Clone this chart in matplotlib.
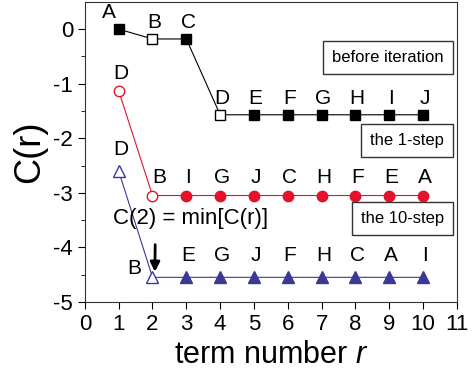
import numpy as np
import matplotlib.pyplot as plt

plt.rcParams['font.family'] = ['Liberation Sans', 'DejaVu Sans']
plt.rcParams['axes.unicode_minus'] = False
plt.rcParams['mathtext.fontset'] = 'custom'
plt.rcParams['mathtext.it'] = 'Liberation Sans:italic'
plt.rcParams['mathtext.rm'] = 'Liberation Sans'

r = np.arange(1, 11)

# before iteration
c0 = [0, -0.18, -0.18, -1.57, -1.57, -1.57, -1.57, -1.57, -1.57, -1.57]
lab0 = ["A", "B", "C", "D", "E", "F", "G", "H", "I", "J"]
open0 = [1, 3]          # indices drawn as open markers

# the 1-step
c1 = [-1.13, -3.05, -3.05, -3.05, -3.05, -3.05, -3.05, -3.05, -3.05, -3.05]
lab1 = ["D", "B", "I", "G", "J", "C", "H", "F", "E", "A"]
open1 = [0, 1]

# the 10-step
c10 = [-2.6, -4.55, -4.55, -4.55, -4.55, -4.55, -4.55, -4.55, -4.55, -4.55]
lab10 = ["D", "B", "E", "G", "J", "F", "H", "C", "A", "I"]
open10 = [0, 1]

black = "black"
red = "#e3132c"
blue = "#3a3a96"

fig = plt.figure(figsize=(4.74, 3.75), dpi=100)
ax = fig.add_axes([0.179, 0.195, 0.785, 0.8])

def series(y, labels, opens, color, marker, ms):
    ax.plot(r, y, "-", color=color, lw=0.8, zorder=1)
    for i in range(len(r)):
        fc = "white" if i in opens else color
        ax.plot(r[i], y[i], marker, ms=ms, mfc=fc, mec=color, mew=1.0, zorder=2)

series(c0, lab0, open0, black, "s", 7)
series(c1, lab1, open1, red, "o", 7.5)
series(c10, lab10, open10, blue, "^", 8)

fs = 15
# letter labels
for i in range(len(r)):
    dx = -0.3 if i == 0 else 0.05
    ax.text(r[i] + dx, c0[i] + 0.13, lab0[i], fontsize=fs, ha="center", va="bottom")
for i in range(len(r)):
    dx = 0.2 if i == 1 else 0.05
    ax.text(r[i] + dx, c1[i] + 0.15, lab1[i], fontsize=fs, ha="center", va="bottom")
for i in range(len(r)):
    if i == 1:
        ax.text(r[i] - 0.55, c10[i] - 0.02, lab10[i], fontsize=fs, ha="center", va="bottom")
    else:
        ax.text(r[i] + 0.05, c10[i] + 0.22, lab10[i], fontsize=fs, ha="center", va="bottom")

# boxes
box = dict(boxstyle="square,pad=0.55", fc="white", ec="#333333", lw=1.0)
ax.text(10.62, -0.52, "before iteration", fontsize=12, ha="right", va="center", bbox=box)
ax.text(10.62, -2.04, "the 1-step", fontsize=12, ha="right", va="center", bbox=box)
ax.text(10.62, -3.47, "the 10-step", fontsize=12, ha="right", va="center", bbox=box)

ax.text(3.14, -3.47, "C(2) = min[C(r)]", fontsize=16, ha="center", va="center")
ax.annotate("", xy=(2.07, -4.5), xytext=(2.08, -3.9),
            arrowprops=dict(arrowstyle="-|>", color="black", lw=2, mutation_scale=14))

ax.set_xlim(0, 11)
ax.set_ylim(-5, 0.5)
ax.set_xticks(range(0, 12))
ax.set_yticks(range(-5, 1))
ax.set_yticks(np.arange(-4.5, 0.5, 1), minor=True)
ax.tick_params(axis="both", which="major", labelsize=16, direction="out", length=5)
ax.tick_params(axis="y", which="minor", direction="out", length=3)
for s in ax.spines.values():
    s.set_color("#333333")
ax.set_xlabel("term number $\\mathit{r}$", fontsize=22)
ax.set_ylabel("C(r)", fontsize=26)

fig.savefig("out.png", dpi=100)
